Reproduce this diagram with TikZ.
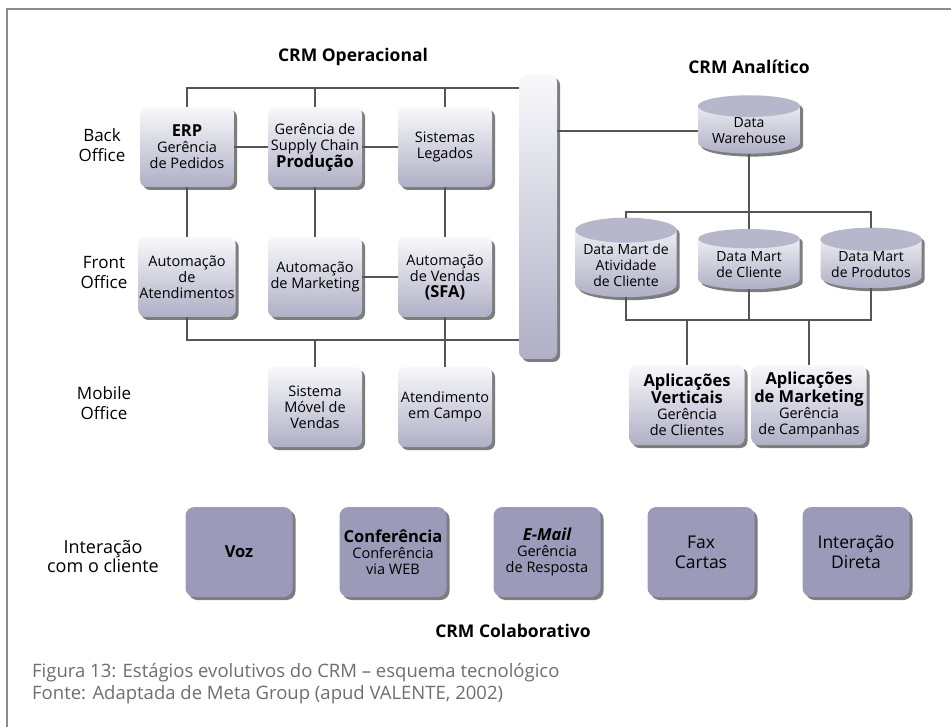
\documentclass[tikz,border=0pt]{standalone}
\usepackage{fontspec}
\setmainfont{Open Sans}
\usetikzlibrary{shapes.geometric,shadows,calc}
\definecolor{linegray}{HTML}{555555}
\definecolor{framegray}{HTML}{8C8C8C}
\definecolor{boxtop}{HTML}{F8F8FB}
\definecolor{boxbottom}{HTML}{AFAFC6}
\definecolor{lavender}{HTML}{9B9AB9}
\definecolor{shadowgray}{HTML}{7D7D7D}
\definecolor{capgray}{HTML}{B7B7CC}
\definecolor{captiongray}{HTML}{6E6E6E}
\tikzset{
  conn/.style={draw=linegray,line width=1.6pt},
  boxshadow/.style={drop shadow={shadow xshift=3pt,shadow yshift=-3pt,fill=shadowgray,opacity=1}},
  sysbox/.style={rectangle,rounded corners=7pt,top color=boxtop,bottom color=boxbottom,
    minimum width=94,minimum height=80,align=center,inner sep=1pt,boxshadow,
    font=\fontsize{14.5}{16}\selectfont},
  appbox/.style={sysbox,minimum width=115},
  chanbox/.style={rectangle,rounded corners=9pt,fill=lavender,minimum width=107,minimum height=90,
    align=center,inner sep=1pt,boxshadow,font=\fontsize{14.5}{16}\selectfont},
  databox/.style={cylinder,shape border rotate=90,aspect=0.28,top color=boxtop,bottom color=boxbottom,
    minimum width=101,minimum height=60,align=center,inner sep=1pt,boxshadow,
    font=\fontsize{14}{16}\selectfont},
  rowlabel/.style={align=center,font=\fontsize{17}{20}\selectfont},
  title/.style={font=\fontsize{17.5}{20}\selectfont\bfseries},
  captionline/.style={anchor=base west,text=captiongray,font=\fontsize{18.5}{20}\selectfont,inner sep=0pt},
  big/.style={font=\fontsize{17.5}{20}\selectfont},
}
\newcommand{\hd}[1]{{\fontsize{16.5}{18}\selectfont\bfseries #1}}
\begin{document}
\begin{tikzpicture}[x=1pt,y=-1pt]
\useasboundingbox (0,0) rectangle (951,727);
\draw[framegray,line width=2.2pt] (7,727) -- (7,9) -- (951,9);

% titulos
\node[title] (optitle) at (353,57) {CRM Operacional};
\node[title] (antitle) at (749,67) {CRM Analítico};
\node[title] (coltitle) at (513,631) {CRM Colaborativo};

\node[rowlabel] (back) at (102,145) {Back\\Office};
\node[rowlabel] (front) at (104,273) {Front\\Office};
\node[rowlabel] (mobile) at (104,403) {Mobile\\Office};
\node[rowlabel,font=\fontsize{18}{19}\selectfont] (inter) at (103,556) {Interação\\com o cliente};

\coordinate (topbus) at (0,88);
\coordinate (lowbus) at (0,340);
\coordinate (mtop) at (0,212);
\coordinate (mbot) at (0,320);

% CRM operacional
\node[sysbox] (erp) at (187,147) {\hd{ERP}\\Gerência\\de Pedidos};
\node[sysbox] (supply) at (315,147) {Gerência de\\Supply Chain\\\hd{Produção}};
\node[sysbox] (legados) at (445,147) {Sistemas\\Legados};
\node[sysbox] (atend) at (187,277) {Automação\\de\\Atendimentos};
\node[sysbox] (mkt) at (315,277) {Automação\\de Marketing};
\node[sysbox] (sfa) at (445,277) {Automação\\de Vendas\\\hd{(SFA)}};
\node[sysbox] (movel) at (315,407) {Sistema\\Móvel de\\Vendas};
\node[sysbox] (campo) at (445,407) {Atendimento\\em Campo};
\node[sysbox,minimum width=38,minimum height=284] (bar) at (538,217) {};

\draw[conn] (erp.north) |- (bar.west |- topbus);
\draw[conn] (supply.north) -- (supply.north |- topbus);
\draw[conn] (legados.north) -- (legados.north |- topbus);
\draw[conn] (erp.east) -- (supply.west);
\draw[conn] (supply.east) -- (legados.west);
\draw[conn] (erp.south) -- (atend.north);
\draw[conn] (supply.south) -- (mkt.north);
\draw[conn] (legados.south) -- (sfa.north);
\draw[conn] (mkt.east) -- (sfa.west);
\draw[conn] (atend.south) |- (bar.west |- lowbus);
\draw[conn] (movel.north) -- (movel.north |- lowbus);
\draw[conn] (sfa.south) -- (campo.north);

% CRM analitico
\node[databox,minimum height=58,minimum width=102] (dw) at (749,131) {Data\\Warehouse};
\node[databox] (dm1) at (626,265) {Data Mart\ de\\Atividade\\de Cliente};
\node[databox] (dm2) at (749,265) {Data Mart\\de Cliente};
\node[databox] (dm3) at (871,265) {Data Mart\\de Produtos};
\foreach \c in {dw,dm1,dm2,dm3}
  {\path let \p1=(\c.before top), \p2=(\c.after top), \p3=(\c.top) in
    [fill=capgray] ($(\p1)!.5!(\p2)$) ellipse [x radius={abs(\x2-\x1)/2}, y radius={abs(\y3-(\y1+\y2)/2)}];}
\node[appbox] (av) at (687,405) {\hd{Aplicações}\\\hd{Verticais}\\Gerência\\de Clientes};
\node[appbox] (am) at (809,405) {\hd{Aplicações}\\\hd{de Marketing}\\Gerência\\de Campanhas};

\draw[conn] (bar.east |- dw.west) -- (dw.west);
\draw[conn] (dw.south) -- (dw.south |- mtop);
\draw[conn] (dm1.north) |- (dm3.north |- mtop) -- (dm3.north);
\draw[conn] (dm2.north) -- (dm2.north |- mtop);
\draw[conn] (dm1.south) |- (dm3.south |- mbot) -- (dm3.south);
\draw[conn] (dm2.south) -- (dm2.south |- mbot);
\draw[conn] (av.north) -- (av.north |- mbot);
\draw[conn] (am.north) -- (am.north |- mbot);

% CRM colaborativo
\node[chanbox] (voz) at (239,552) {\hd{Voz}};
\node[chanbox] (conf) at (393,552) {\hd{Conferência}\\Conferência\\via WEB};
\node[chanbox] (email) at (547,552) {\hd{\itshape E-Mail}\\Gerência\\de Resposta};
\node[chanbox,big] (fax) at (701,552) {Fax\\Cartas};
\node[chanbox,big] (direta) at (856,552) {Interação\\Direta};

\node[captionline] (caption1) at (32,677) {Figura 13: Estágios evolutivos do CRM – esquema tecnológico};
\node[captionline] (caption2) at (32,699) {Fonte: Adaptada de Meta Group (apud VALENTE, 2002)};
\end{tikzpicture}
\end{document}
